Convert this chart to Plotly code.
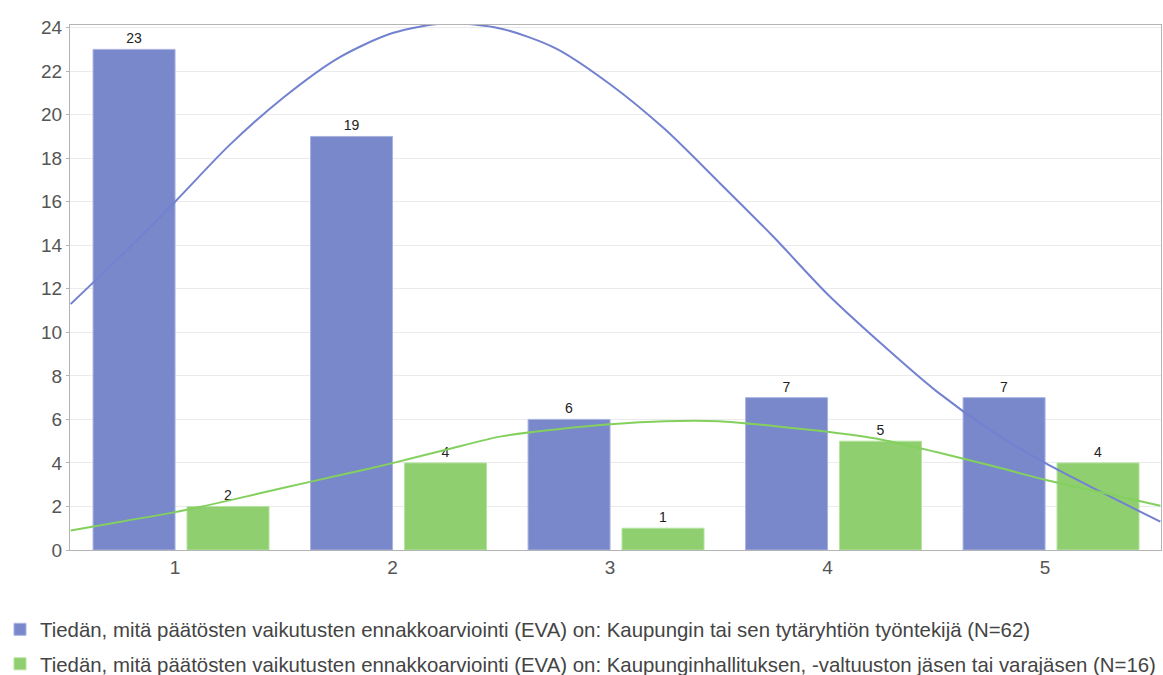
import plotly.graph_objects as go

categories = [1, 2, 3, 4, 5]
tick_labels = ["1", "2", "3", "4", "5"]

series_names = [
    "Tiedän, mitä päätösten vaikutusten ennakkoarviointi (EVA) on: Kaupungin tai sen tytäryhtiön työntekijä (N=62)",
    "Tiedän, mitä päätösten vaikutusten ennakkoarviointi (EVA) on: Kaupunginhallituksen, -valtuuston jäsen tai varajäsen (N=16)",
]
blue_values = [23, 19, 6, 7, 7]
green_values = [2, 4, 1, 5, 4]

# Fitted curves
blue_curve_x = [0.52, 0.75, 1.0, 1.25, 1.5, 1.75, 2.0, 2.25, 2.5, 2.75, 3.0, 3.25, 3.5,
                3.75, 4.0, 4.25, 4.5, 4.75, 5.0, 5.25, 5.53]
blue_curve_y = [11.3, 13.5, 16.0, 18.6, 20.8, 22.6, 23.75, 24.2, 23.95, 23.05, 21.4, 19.35, 16.9,
                14.4, 11.75, 9.45, 7.3, 5.5, 4.0, 2.7, 1.3]
green_curve_x = [0.52, 0.75, 1.0, 1.25, 1.5, 1.75, 2.0, 2.25, 2.5, 2.75, 3.0, 3.25, 3.5,
                 3.75, 4.0, 4.25, 4.5, 4.75, 5.0, 5.25, 5.53]
green_curve_y = [0.9, 1.3, 1.74, 2.28, 2.86, 3.42, 3.99, 4.62, 5.22, 5.54, 5.78, 5.92, 5.92,
                 5.7, 5.43, 5.07, 4.5, 3.88, 3.23, 2.66, 2.03]

BLUE = "#7987CB"
GREEN = "#8FCF6F"
BLUE_LINE = "#7382D0"
GREEN_LINE = "#84D05E"
BAR_W = 0.377
FONT = "Liberation Sans, Arial"

fig = go.Figure()
fig.add_trace(go.Bar(
    x=categories, y=blue_values, name=series_names[0], offset=-BAR_W, width=BAR_W,
    marker=dict(color=BLUE, line=dict(color="#A9B3E0", width=1)),
    text=[str(v) for v in blue_values], textposition="outside",
    textfont=dict(size=14, color="#222222", family=FONT),
    cliponaxis=False, legendgroup="a",
))
fig.add_trace(go.Bar(
    x=categories, y=green_values, name=series_names[1], offset=0.055, width=BAR_W,
    marker=dict(color=GREEN, line=dict(color="#B5E3A0", width=1)),
    text=[str(v) for v in green_values], textposition="outside",
    textfont=dict(size=14, color="#222222", family=FONT),
    cliponaxis=False, legendgroup="b",
))
fig.add_trace(go.Scatter(
    x=blue_curve_x, y=blue_curve_y, mode="lines",
    line=dict(color=BLUE_LINE, width=2, shape="spline", smoothing=0.8),
    showlegend=False, cliponaxis=False, hoverinfo="skip",
))
fig.add_trace(go.Scatter(
    x=green_curve_x, y=green_curve_y, mode="lines",
    line=dict(color=GREEN_LINE, width=2, shape="spline", smoothing=0.8),
    showlegend=False, cliponaxis=False, hoverinfo="skip",
))

fig.update_layout(
    width=1163, height=675,
    margin=dict(l=70, r=2, t=25, b=125, autoexpand=False),
    paper_bgcolor="white", plot_bgcolor="white",
    barmode="overlay",
    font=dict(family=FONT, color="#555555", size=19),
    legend=dict(
        orientation="v", xref="container", yref="container",
        x=0.0, y=0.097, xanchor="left", yanchor="top",
        font=dict(size=20.4, color="#444444", family=FONT), tracegroupgap=5,
        bgcolor="rgba(0,0,0,0)",
    ),
    xaxis=dict(
        range=[0.517, 5.533], tickmode="array", tickvals=categories, ticktext=tick_labels,
        showgrid=False, zeroline=False, showline=True, mirror=True,
        linecolor="#B4B4B4", linewidth=1, ticks="", tickfont=dict(size=19, color="#555555"),
    ),
    yaxis=dict(
        range=[0, 24.12], tickmode="linear", tick0=0, dtick=2,
        showgrid=True, gridcolor="#EBEBEB", gridwidth=1, zeroline=False,
        showline=True, mirror=True, linecolor="#B4B4B4", linewidth=1,
        ticks="outside", ticklen=3, tickcolor="#B4B4B4",
        tickfont=dict(size=19, color="#555555"),
    ),
)

fig.write_html("out.html", config={"displayModeBar": False},
               post_script="document.body.style.margin='0';")
